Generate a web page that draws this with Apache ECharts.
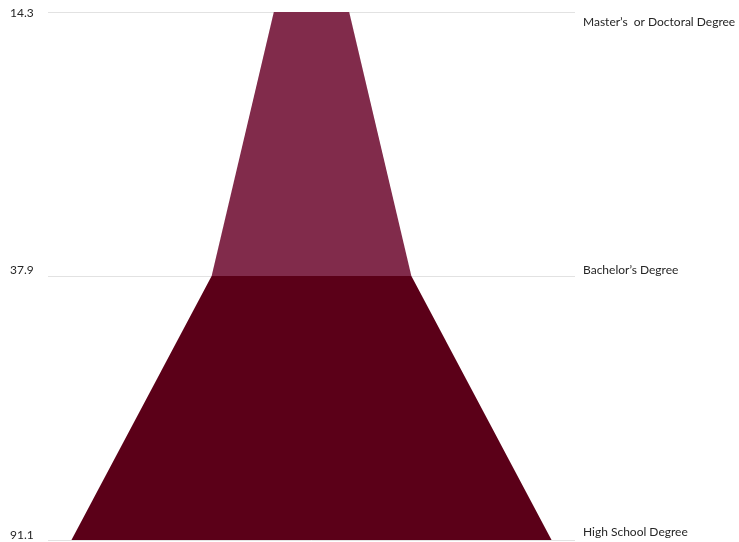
<!DOCTYPE html>
<html>
<head>
<meta charset="utf-8">
<script src="https://cdn.jsdelivr.net/npm/echarts@6/dist/echarts.min.js"></script>
<style>html,body{margin:0;padding:0;background:#fff;}#c{width:739px;height:542px;}</style>
</head>
<body>
<div id="c"></div>
<script>
var values = [14.3, 37.9, 91.1];
var valueLabels = ['14.3', '37.9', '91.1'];
var categories = ["Master\u2019s  or Doctoral Degree", "Bachelor\u2019s Degree", "High School Degree"];
var sectionColors = ['#812b4b', '#5b0018'];

var chart = echarts.init(document.getElementById('c'));
var segs = [];
for (var i = 0; i < values.length - 1; i++) segs.push([values[i], values[i + 1], i]);

var txt = { fontFamily: 'Lato', fontSize: 12, color: '#262626' };
function rs(pad) { return Object.assign({}, txt, { padding: pad }); }

chart.setOption({
  animation: false,
  grid: { left: 48, right: 164, top: 12, bottom: 2 },
  xAxis: { type: 'value', min: -100, max: 100, show: false },
  yAxis: [{
    type: 'category', data: valueLabels, inverse: true, boundaryGap: false,
    position: 'left',
    axisLine: { show: false }, axisTick: { show: false },
    splitLine: { show: true, lineStyle: { color: '#e2e2e2', width: 1 } },
    axisLabel: {
      align: 'left', margin: 38, fontFamily: 'Lato', fontSize: 12, color: '#262626',
      formatter: function (v, i) { return '{r' + i + '|' + v + '}'; },
      rich: { r0: rs([2, 0, 0, 0]), r1: rs([0, 0, 12, 0]), r2: rs([0, 0, 10, 0]) }
    }
  }, {
    type: 'category', data: categories, inverse: true, boundaryGap: false,
    position: 'right',
    axisLine: { show: false }, axisTick: { show: false }, splitLine: { show: false },
    axisLabel: {
      margin: 8, fontFamily: 'Lato', fontSize: 12, color: '#262626',
      formatter: function (v, i) { return '{r' + i + '|' + v + '}'; },
      rich: { r0: rs([20, 0, 0, 0]), r1: rs([0, 0, 12, 0]), r2: rs([0, 0, 16, 0]) }
    }
  }],
  series: [{
    type: 'custom',
    coordinateSystem: 'cartesian2d',
    data: segs,
    renderItem: function (params, api) {
      var a = api.value(0), b = api.value(1), k = api.value(2);
      var p1 = api.coord([-a, k]), p2 = api.coord([a, k]);
      var p3 = api.coord([b, k + 1]), p4 = api.coord([-b, k + 1]);
      return {
        type: 'polygon',
        shape: { points: [p1, p2, p3, p4] },
        style: { fill: sectionColors[k] }
      };
    }
  }]
});
</script>
</body>
</html>
